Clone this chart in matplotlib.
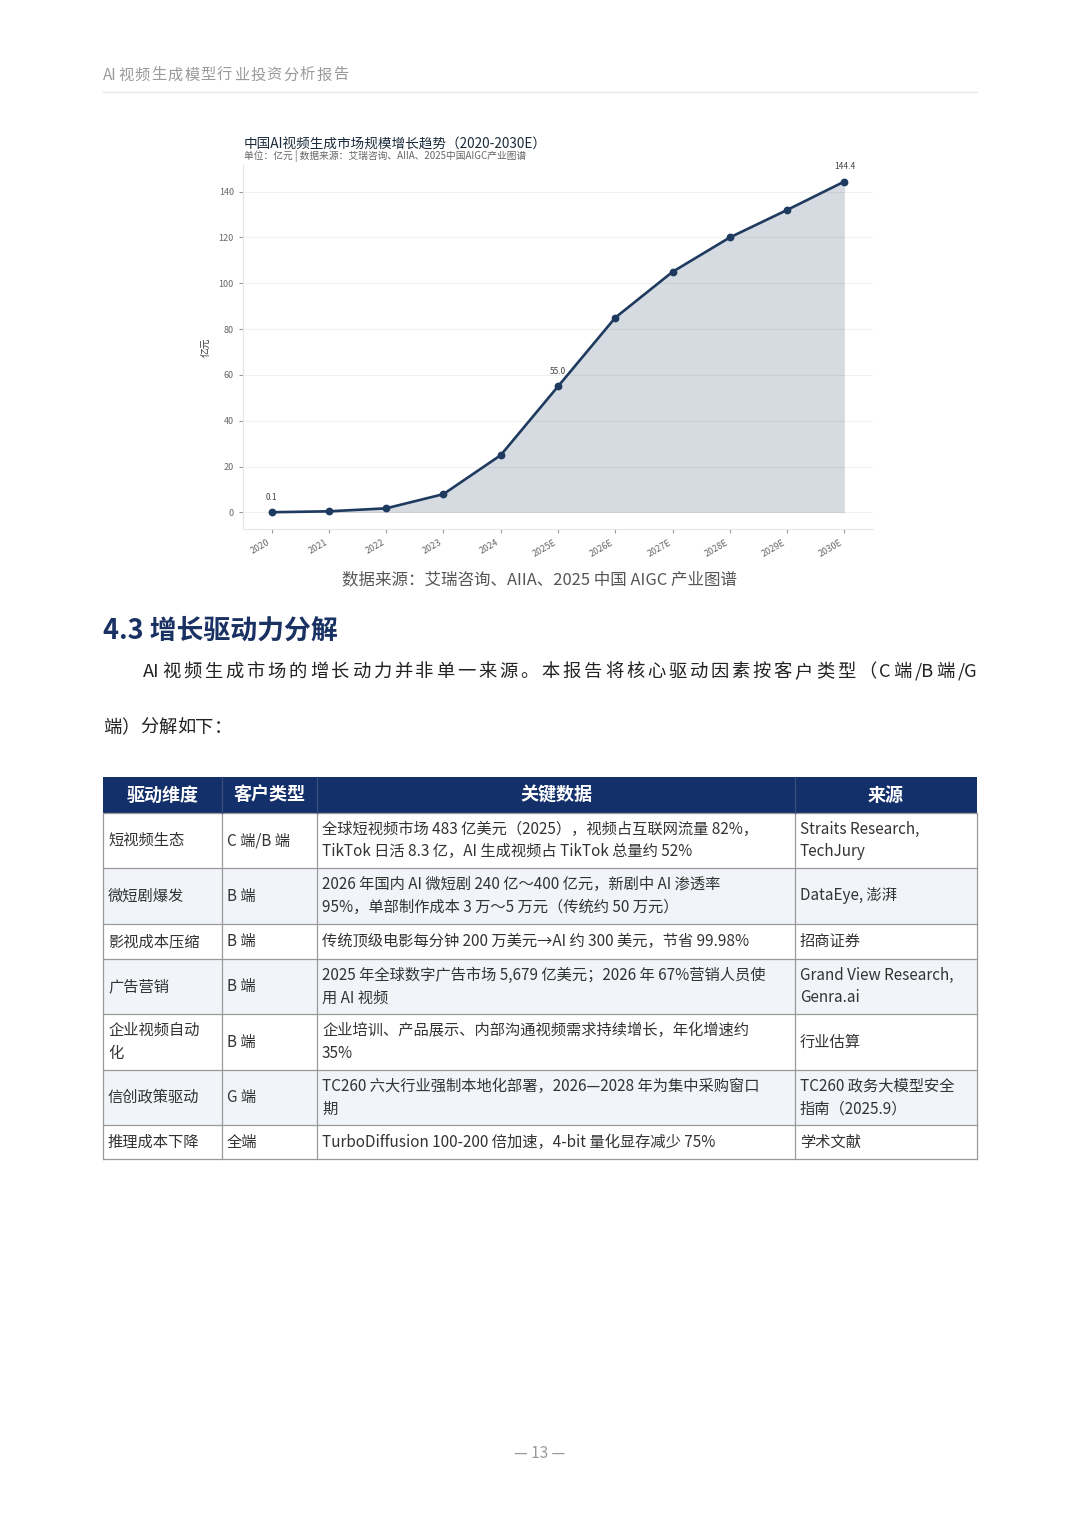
import re
import matplotlib
matplotlib.use('Agg')
import matplotlib.pyplot as plt
from matplotlib.patches import Rectangle

plt.rcParams['font.family'] = ['Noto Sans CJK SC', 'DejaVu Sans']

# ---------------------------------------------------------#
# Data                                                     #
# ---------------------------------------------------------#
years  = ['2020', '2021', '2022', '2023', '2024', '2025E',
          '2026E', '2027E', '2028E', '2029E', '2030E']
market = [0.1, 0.5, 1.8, 8.0, 25.0, 55.0, 85.0, 105.0, 120.0, 132.0, 144.4]
labelled = [0, 5, 10]

chart_title    = '中国AI视频生成市场规模增长趋势（2020-2030E）'
chart_subtitle = '单位：亿元 | 数据来源：艾瑞咨询、AIIA、2025中国AIGC产业图谱'
chart_ylabel   = '亿元'
chart_caption  = '数据来源：艾瑞咨询、AIIA、2025 中国 AIGC 产业图谱'

page_header = 'AI 视频生成模型行业投资分析报告'
section     = '4.3 增长驱动力分解'
para_line1  = 'AI 视频生成市场的增长动力并非单一来源。本报告将核心驱动因素按客户类型（C 端/B 端/G'
para_line2  = '端）分解如下：'
page_number = '— 13 —'

table_header = ['驱动维度', '客户类型', '关键数据', '来源']
col_driver = ['短视频生态', '微短剧爆发', '影视成本压缩', '广告营销',
              '企业视频自动\n化', '信创政策驱动', '推理成本下降']
col_client = ['C 端/B 端', 'B 端', 'B 端', 'B 端', 'B 端', 'G 端', '全端']
col_data = [
    '全球短视频市场 483 亿美元（2025），视频占互联网流量 82%，\nTikTok 日活 8.3 亿，AI 生成视频占 TikTok 总量约 52%',
    '2026 年国内 AI 微短剧 240 亿～400 亿元，新剧中 AI 渗透率\n95%，单部制作成本 3 万～5 万元（传统约 50 万元）',
    '传统顶级电影每分钟 200 万美元→AI 约 300 美元，节省 99.98%',
    '2025 年全球数字广告市场 5,679 亿美元；2026 年 67%营销人员使\n用 AI 视频',
    '企业培训、产品展示、内部沟通视频需求持续增长，年化增速约\n35%',
    'TC260 六大行业强制本地化部署，2026—2028 年为集中采购窗口\n期',
    'TurboDiffusion 100-200 倍加速，4-bit 量化显存减少 75%',
]
col_source = ['Straits Research,\nTechJury', 'DataEye, 澎湃', '招商证券',
              'Grand View Research,\nGenra.ai', '行业估算',
              'TC260 政务大模型安全\n指南（2025.9）', '学术文献']

# ---------------------------------------------------------#
# Style                                                    #
# ---------------------------------------------------------#
navy       = '#1e3a5f'
head_navy  = '#14306a'
text_gray  = '#333333'
W, H = 1080, 1527

fig = plt.figure(figsize=(W / 100, H / 100), dpi=100)
fig.patch.set_facecolor('white')
renderer = fig.canvas.get_renderer()

# page overlay in pixel coordinates
page = fig.add_axes([0, 0, 1, 1])
page.set_xlim(0, W)
page.set_ylim(H, 0)
page.axis('off')


def spread_text(x0, x1, y, s, **kw):
    """Lay a line out between x0 and x1 (justified, like the document)."""
    tokens = re.findall(r'[A-Za-z0-9/.,%\-]+| |[^A-Za-z0-9/.,%\- ]', s)
    items = []
    for tok in tokens:
        t = page.text(0, y, tok if tok != ' ' else '', va='center', ha='left', **kw)
        w = t.get_window_extent(renderer).width if tok != ' ' else 0.0
        if tok == ' ':
            t.remove()
        items.append((t if tok != ' ' else None, w))
    words = [it for it in items if it[0] is not None]
    total = sum(w for _, w in words)
    gap = (x1 - x0 - total) / max(len(words) - 1, 1)
    x = x0
    for t, w in words:
        t.set_x(x)
        x += w + gap


# page header
spread_text(103, 348, 75, page_header, fontsize=11, color='#9a9a9a')
page.plot([103, 977], [92, 92], color='#e6e6e6', lw=0.9)

# ---------------------------------------------------------#
# Chart                                                    #
# ---------------------------------------------------------#
ax = fig.add_axes([243 / W, 1 - 529 / H, 630 / W, 364 / H])
xs = list(range(len(years)))
ax.fill_between(xs, market, color=navy, alpha=0.18, lw=0)
ax.plot(xs, market, color=navy, lw=1.9, marker='o', ms=4.6, zorder=3)
for i in labelled:
    ax.annotate(f'{market[i]:.1f}', (xs[i], market[i]), textcoords='offset points',
                xytext=(0, 9), ha='center', fontsize=6, color='#444444')
ax.set_xticks(xs)
ax.set_xticklabels(years, rotation=30, ha='right', fontsize=6.5, color='#666666')
ax.set_yticks([0, 20, 40, 60, 80, 100, 120, 140])
ax.tick_params(axis='y', labelsize=6.5, labelcolor='#666666', color='#999999', length=3)
ax.tick_params(axis='x', color='#999999', length=3)
ax.grid(axis='y', color='#f0f0f0', lw=0.8)
ax.set_axisbelow(True)
for s in ['top', 'right']:
    ax.spines[s].set_visible(False)
for s in ['left', 'bottom']:
    ax.spines[s].set_color('#e6e6e6')
    ax.spines[s].set_linewidth(0.8)
ax.set_ylabel(chart_ylabel, fontsize=7, color='#333333', labelpad=5)

page.text(244, 145, chart_title, fontsize=9.8, color='#1a2a3a', va='center', ha='left')
page.text(244, 156, chart_subtitle, fontsize=7, color='#666666', va='center', ha='left')
page.text(540, 580, chart_caption, fontsize=11.9, color='#555555', va='center', ha='center')

# ---------------------------------------------------------#
# Section text                                             #
# ---------------------------------------------------------#
page.text(103, 631, section, fontsize=19.4, fontweight='bold', color='#1a3263',
          va='center', ha='left')
spread_text(143, 977, 672, para_line1, fontsize=13.2, color='#222222')
spread_text(103, 232, 728, para_line2, fontsize=13.2, color='#222222')

# ---------------------------------------------------------#
# Table                                                    #
# ---------------------------------------------------------#
col_x  = [103, 222, 317, 795, 977]
row_y  = [777, 813, 868, 924, 959, 1014, 1070, 1125, 1159]
border = '#9a9a9a'

page.add_patch(Rectangle((col_x[0], row_y[0]), col_x[-1] - col_x[0], row_y[1] - row_y[0],
                         facecolor=head_navy, edgecolor='none'))
for r in range(len(col_driver)):
    if r % 2 == 1:
        page.add_patch(Rectangle((col_x[0], row_y[r + 1]), col_x[-1] - col_x[0],
                                 row_y[r + 2] - row_y[r + 1], facecolor='#f1f4f8',
                                 edgecolor='none'))
for y in row_y[1:]:
    page.plot([col_x[0], col_x[-1]], [y, y], color=border, lw=0.9)
for x in col_x:
    page.plot([x, x], [row_y[1], row_y[-1]], color=border, lw=0.9)
for x in col_x[1:-1]:
    page.plot([x, x], [row_y[0], row_y[1]], color='#3a4f7a', lw=0.9)

for c, head in enumerate(table_header):
    page.text((col_x[c] + col_x[c + 1]) / 2, (row_y[0] + row_y[1]) / 2, head,
              fontsize=13, fontweight='bold', color='white', ha='center', va='center')

columns = [col_driver, col_client, col_data, col_source]
for c, col in enumerate(columns):
    for r, cell in enumerate(col):
        page.text(col_x[c] + 5, (row_y[r + 1] + row_y[r + 2]) / 2, cell,
                  fontsize=11, color=text_gray, ha='left', va='center',
                  linespacing=1.45)

page.text(540, 1453, page_number, fontsize=11, color='#9a9a9a', ha='center', va='center')

fig.savefig('out.png', dpi=100)
